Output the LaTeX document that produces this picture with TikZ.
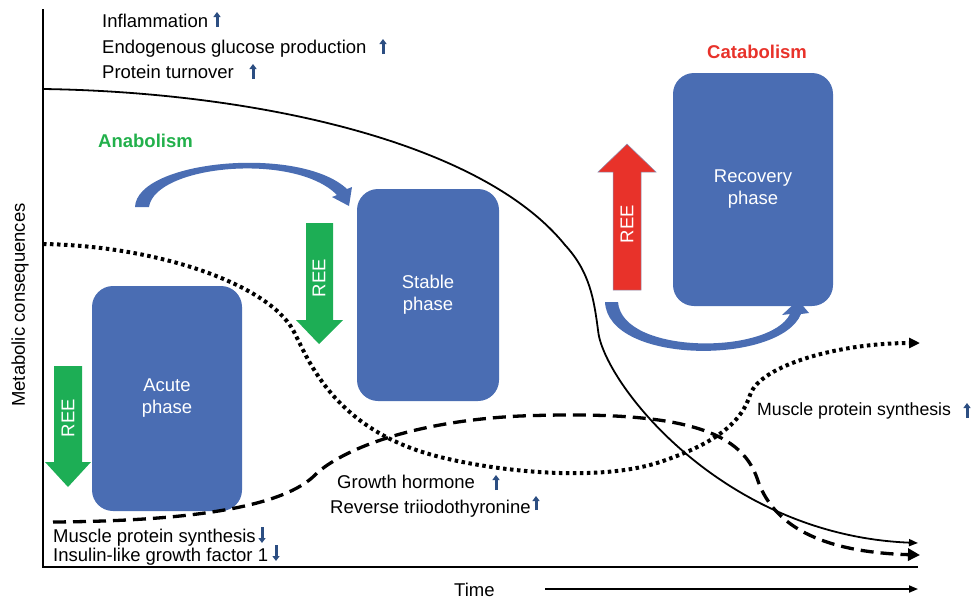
\documentclass[tikz,border=0pt]{standalone}
\usepackage{fontspec}
\setmainfont{Liberation Sans}
\usetikzlibrary{arrows.meta}
\definecolor{phaseblue}{HTML}{4A6DB3}
\definecolor{reegreen}{HTML}{1DAE55}
\definecolor{reered}{HTML}{E8322A}
\definecolor{anagreen}{HTML}{22B04B}
\definecolor{markblue}{HTML}{2C4E82}
\definecolor{edgegrey}{HTML}{8C95B8}
\begin{document}
\begin{tikzpicture}[x=1pt,y=-1pt,
  lbl/.style={font=\fontsize{18.5}{22}\selectfont, inner sep=0pt, anchor=base west},
  phasebox/.style={fill=phaseblue, rounded corners=21pt, text=white, align=center,
    font=\fontsize{18.5}{22}\selectfont, inner sep=0pt},
  reelbl/.style={text=white, rotate=90, font=\fontsize{18.5}{20}\selectfont, inner sep=0pt},
  reearrow/.style={draw=edgegrey, line width=0.5pt},
  axisline/.style={line width=2pt},
  trend/.style={line width=1.8pt, -{Triangle[length=9pt,width=7pt]}},
  dottrend/.style={line width=4pt, dash pattern=on 3.5pt off 3.5pt,
    -{Triangle[length=11pt,width=10pt]}},
  dashtrend/.style={line width=3.3pt, dash pattern=on 13pt off 7pt,
    -{Triangle[length=12pt,width=12pt]}},
  upmark/.style={markblue, line width=3pt, -{Triangle[length=5pt,width=7pt]}},
]
\useasboundingbox (0,0) rectangle (971,600);

% phase boxes
\node[phasebox, minimum width=150pt, minimum height=225pt] (acute) at (167,398.5) {Acute\\phase};
\node[phasebox, minimum width=142pt, minimum height=212pt] (stable) at (428,295) {Stable\\phase};
\node[phasebox, minimum width=160pt, minimum height=233pt] (recovery) at (753,189.5) {Recovery\\phase};

% resting energy expenditure arrows
\fill[reegreen] (54,366) -- (82,366) -- (82,462) -- (91,462) -- (68,487) -- (45,462) -- (54,462) -- cycle;
\node[reelbl] (reeA) at (68,418) {REE};
\fill[reegreen] (306,223) -- (333,223) -- (333,320) -- (343,320) -- (319,344) -- (296,320) -- (306,320) -- cycle;
\node[reelbl] (reeS) at (319,278) {REE};
\filldraw[reered, reearrow] (613,290) -- (641,290) -- (641,172) -- (656,172) -- (627,144) -- (598,172) -- (613,172) -- cycle;
\node[reelbl] (reeR) at (627,224) {REE};

% curved transition arrows
\fill[phaseblue] (135,207) .. controls (137,160) and (300,145) .. (347,189)
  -- (352,187) -- (349,206) -- (332,197) -- (337,195)
  .. controls (295,152) and (155,165) .. (149,207) -- cycle;
\fill[phaseblue] (605,302) .. controls (608,365) and (780,365) .. (801,314)
  -- (809,313) -- (798,300) -- (782,315) -- (790,314)
  .. controls (770,355) and (622,355) .. (618,302) -- cycle;

% phase labels
\node[lbl, font=\fontsize{18.5}{22}\selectfont\bfseries, text=anagreen] (ana) at (98,147) {Anabolism};
\node[lbl, font=\fontsize{18.5}{22}\selectfont\bfseries, text=reered] (cata) at (707,58) {Catabolism};

% axes
\coordinate (origin) at (43,567);
\coordinate (ytop) at (43,9);
\coordinate (xend) at (918,567);
\draw[axisline] (ytop) -- (origin) -- (xend);
\node[lbl] (time) at (454,596) {Time};
\coordinate (tstart) at (545,589);
\coordinate (tend) at (918,589);
\draw[line width=1.8pt, -{Triangle[length=9pt,width=7pt]}] (tstart) -- (tend);
\node[rotate=90, font=\fontsize{18.5}{22}\selectfont, inner sep=0pt] (ylab) at (20,305) {Metabolic consequences};

% trend curves
\coordinate (s0) at (43,89);
\coordinate (s1) at (918,543);
\draw[trend] (s0) .. controls (250,92) and (480,140) .. (565,245)
  .. controls (590,272) and (594,300) .. (598,330)
  .. controls (602,380) and (720,535) .. (s1);

\coordinate (d0) at (43,244);
\coordinate (d1) at (920,343);
\draw[dottrend] (d0) .. controls (160,246) and (268,285) .. (293,330)
  .. controls (306,353) and (330,430) .. (440,457)
  .. controls (500,472) and (600,482) .. (660,462)
  .. controls (720,442) and (742,420) .. (750,395)
  .. controls (760,365) and (840,343) .. (d1);

\coordinate (h0) at (53,522);
\coordinate (h1) at (920,555);
\draw[dashtrend] (h0) .. controls (200,521) and (285,505) .. (315,475)
  .. controls (335,455) and (400,422) .. (520,416)
  .. controls (680,410) and (740,430) .. (757,478)
  .. controls (772,525) and (820,552) .. (h1);

% indicator texts
\node[lbl] (infl) at (102,27) {Inflammation};
\node[lbl] (egp) at (102,53) {Endogenous glucose production};
\node[lbl] (prot) at (102,78) {Protein turnover};
\node[lbl] (mpsd) at (53,542) {Muscle protein synthesis};
\node[lbl] (igf) at (53,561) {Insulin-like growth factor 1};
\node[lbl] (gh) at (337,488) {Growth hormone};
\node[lbl] (rt3) at (330,513) {Reverse triiodothyronine};
\node[lbl, font=\fontsize{17.7}{22}\selectfont] (mpsu) at (757,415) {Muscle protein synthesis};

% up / down marks
\draw[upmark] (217,27) -- (217,12);
\draw[upmark] (383,54) -- (383,39);
\draw[upmark] (253,79) -- (253,64);
\draw[upmark] (262,527) -- (262,543);
\draw[upmark] (276,545) -- (276,561);
\draw[upmark] (496,490) -- (496,475);
\draw[upmark] (536,510) -- (536,496);
\draw[upmark] (967,418) -- (967,403);
\end{tikzpicture}
\end{document}
